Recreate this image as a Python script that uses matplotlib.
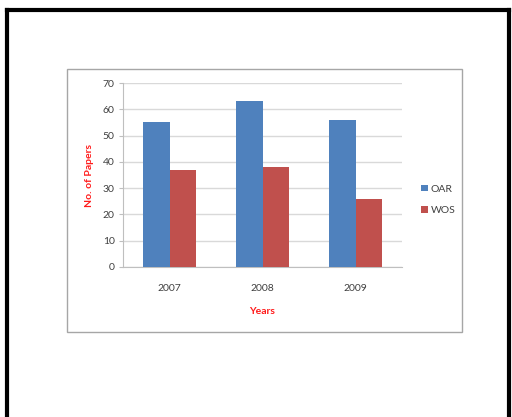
import matplotlib.pyplot as plt
from matplotlib.patches import Rectangle
from matplotlib.lines import Line2D

years = ["2007", "2008", "2009"]
oar = [55, 63, 56]
wos = [37, 38, 26]
series_names = ["OAR", "WOS"]

plt.rcParams['font.family'] = ['Lato', 'DejaVu Sans']

fig = plt.figure(figsize=(5.12, 4.17), dpi=100)
W, H = 512.0, 417.0

# outer black frame (no bottom edge)
fig.add_artist(Line2D([7 / W, 7 / W], [0, 1 - 10 / H], color='black', lw=3.0))
fig.add_artist(Line2D([7 / W, 509 / W], [1 - 10 / H, 1 - 10 / H], color='black', lw=3.0))
fig.add_artist(Line2D([509 / W, 509 / W], [0, 1 - 10 / H], color='black', lw=3.0))

# chart area box
fig.add_artist(Rectangle((67 / W, 1 - 332 / H), (462 - 67) / W, (332 - 69) / H,
                         transform=fig.transFigure, fill=False, edgecolor='#a6a6a6', lw=1.0))

ax = fig.add_axes([123 / W, 1 - 267 / H, (402 - 123) / W, (267 - 83) / H])

x = range(len(years))
bw = 0.29
ax.bar([i - bw / 2 for i in x], oar, bw, color='#4f81bd', label=series_names[0], zorder=3)
ax.bar([i + bw / 2 for i in x], wos, bw, color='#c0504d', label=series_names[1], zorder=3)

ax.set_xlim(-0.5, 2.5)
ax.set_ylim(0, 70)
ax.set_yticks(range(0, 71, 10))
ax.set_xticks(list(x))
ax.set_xticklabels(years)
ax.yaxis.grid(True, color='#d9d9d9', lw=1.0, zorder=0)
for s in ['top', 'right']:
    ax.spines[s].set_visible(False)
ax.spines['left'].set_color('#bfbfbf')
ax.spines['bottom'].set_color('#bfbfbf')
ax.tick_params(axis='y', length=3, color='#bfbfbf', labelsize=7.5, labelcolor='#404040', pad=3)
ax.tick_params(axis='x', length=0, labelsize=7.5, labelcolor='#404040', pad=12)

ax.set_xlabel("Years", color='#ff1a1a', fontsize=7.5, fontweight='bold', labelpad=10)
ax.set_ylabel("No. of Papers", color='#ff1a1a', fontsize=7.5, fontweight='bold', labelpad=6)

fig.legend(loc='center left', bbox_to_anchor=(412 / W, 1 - 200 / H), frameon=False,
           fontsize=7.5, handlelength=0.6, handleheight=0.6, handletextpad=0.3,
           labelspacing=1.2, labelcolor='#404040')

fig.savefig("out.png", dpi=100)
